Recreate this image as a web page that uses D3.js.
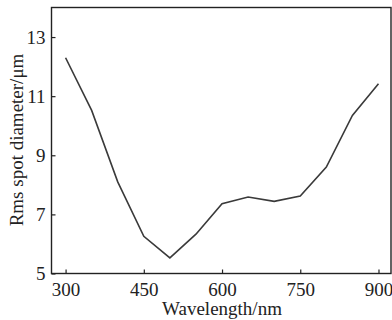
<!DOCTYPE html>
<html>
<head>
<meta charset="utf-8">
<script src="https://cdn.jsdelivr.net/npm/d3@7"></script>
<style>
  body { margin: 0; background: #fff; }
  svg text { font-family: "Liberation Serif", "DejaVu Serif", serif; fill: #222; }
</style>
</head>
<body>
<svg></svg>
<script>
// data
var wavelengths = [300, 350, 400, 450, 500, 550, 600, 650, 700, 750, 800, 850, 900];
var spotDiameter = [12.3, 10.52, 8.1, 6.26, 5.53, 6.33, 7.36, 7.59, 7.44, 7.62, 8.6, 10.35, 11.42];
var xTicks = [300, 450, 600, 750, 900];
var yTicks = [5, 7, 9, 11, 13];

var canvasWidth = 392;
var canvasHeight = 320;
var margin = { top: 7.5, right: 1, bottom: 46.5, left: 51.5 };
var width = canvasWidth - margin.left - margin.right;
var height = canvasHeight - margin.top - margin.bottom;

var svg = d3.select('svg')
  .attr('width', canvasWidth)
  .attr('height', canvasHeight);

var g = svg.append('g')
  .attr('transform', 'translate(' + margin.left + ',' + margin.top + ')');

var xScale = d3.scaleLinear().domain([273, 924]).range([0, width]);
var yScale = d3.scaleLinear().domain([5, 14]).range([height, 0]);

// axes with inward ticks
var xAxis = g.append('g')
  .attr('transform', 'translate(0,' + height + ')')
  .call(d3.axisBottom(xScale).tickValues(xTicks).tickSizeInner(-4).tickSizeOuter(0).tickPadding(9));

var yAxis = g.append('g')
  .call(d3.axisLeft(yScale).tickValues(yTicks).tickSizeInner(-4).tickSizeOuter(0).tickPadding(6));

[xAxis, yAxis].forEach(function(a) {
  a.select('.domain').remove();
  a.selectAll('line').attr('stroke', '#222').attr('stroke-width', 1.2);
  a.selectAll('text').style('font-size', '19px').attr('fill', '#222');
});

// frame
g.append('rect')
  .attr('x', 0).attr('y', 0)
  .attr('width', width).attr('height', height)
  .attr('fill', 'none')
  .attr('stroke', '#222')
  .attr('stroke-width', 1.4);

// curve
var line = d3.line()
  .x(function(d, i) { return xScale(wavelengths[i]); })
  .y(function(d) { return yScale(d); });

g.append('path')
  .datum(spotDiameter)
  .attr('d', line)
  .attr('fill', 'none')
  .attr('stroke', '#3a3a3a')
  .attr('stroke-width', 1.6);

// titles
svg.append('text')
  .attr('x', 222)
  .attr('y', 315)
  .attr('text-anchor', 'middle')
  .style('font-size', '19px')
  .text('Wavelength/nm');

svg.append('text')
  .attr('transform', 'translate(23,140) rotate(-90)')
  .attr('text-anchor', 'middle')
  .style('font-size', '19px')
  .text('Rms spot diameter/\u03bcm');
</script>
</body>
</html>
